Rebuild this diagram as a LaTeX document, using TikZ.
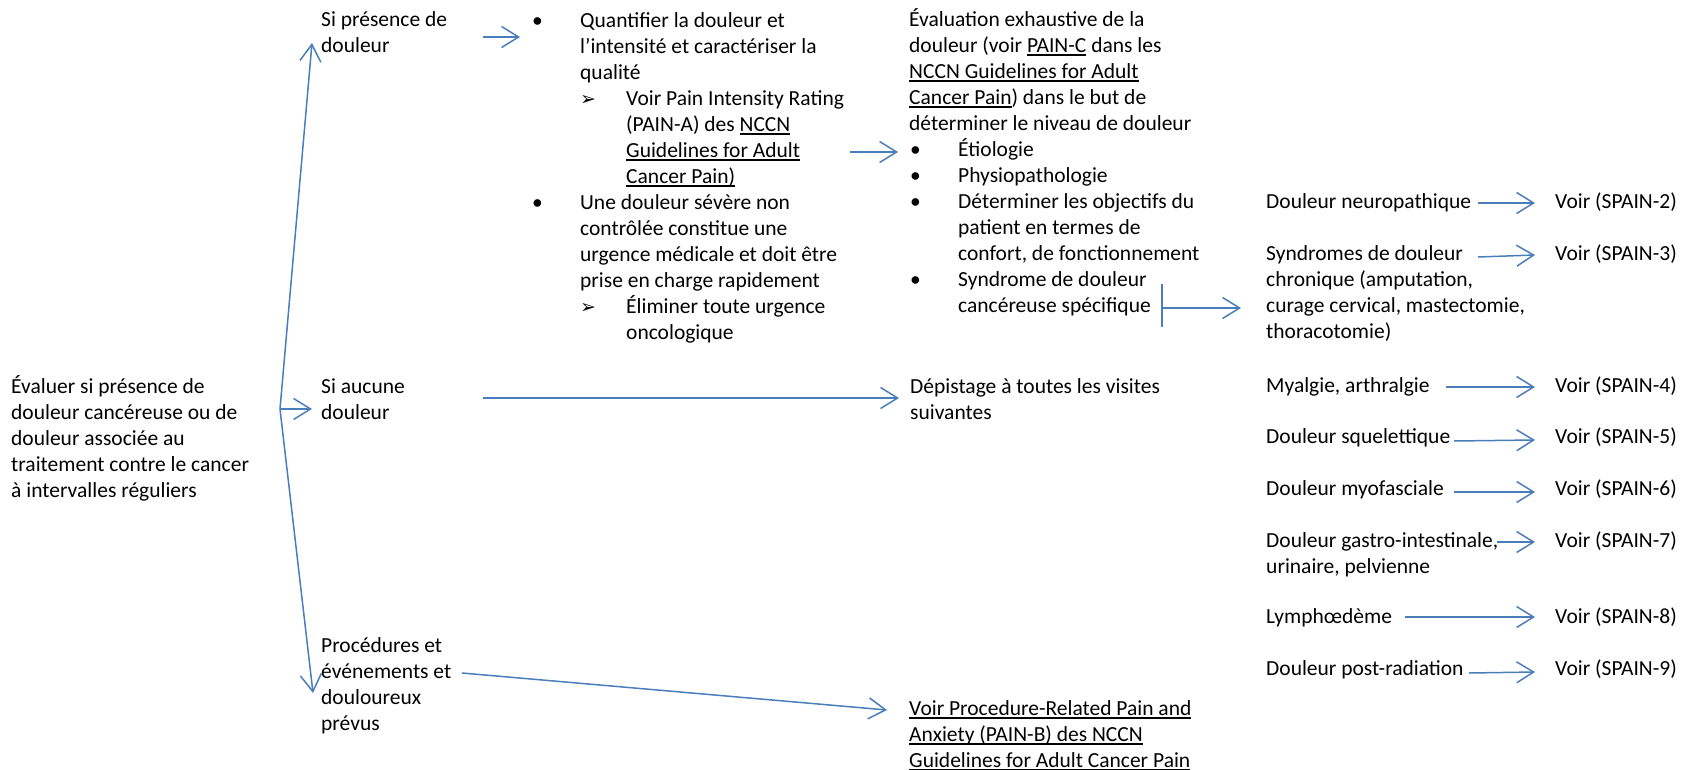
\documentclass[tikz,border=0pt]{standalone}
\usepackage{fontspec}
\setmainfont{Carlito}
\newfontfamily\dingfont{DejaVu Sans}
\usetikzlibrary{arrows.meta}
\definecolor{arrblue}{RGB}{74,126,187}
\newcommand\myul[1]{\leavevmode\setbox0=\hbox{#1}\rlap{\rule[-3.5bp]{\wd0}{1.3bp}}\box0\relax}
\newcommand\fl{\rule{0pt}{22bp}}
\newcommand\bl[1]{\makebox[#1][l]{•}}
\newcommand\arw{\makebox[46bp][l]{\dingfont\fontsize{19bp}{19bp}\selectfont ➢}}
\tikzset{
  txt/.style={anchor=north west, inner sep=0pt, align=left, font=\fontsize{21.5bp}{26bp}\selectfont},
  arr/.style={draw=arrblue, line width=1.5bp, -{Straight Barb[length=17bp,width=21bp]}},
  ln/.style={draw=arrblue, line width=1.5bp}
}
\begin{document}
\begin{tikzpicture}[x=1bp, y=-1bp]
\useasboundingbox (0,0) rectangle (1692,770);
% left text
\node[txt] (ev) at (11,371) {\fl Évaluer si présence de\\douleur cancéreuse ou de\\douleur associée au\\traitement contre le cancer\\à intervalles réguliers};
\node[txt] (pres) at (321,4) {\fl Si présence de\\douleur};
\node[txt] (auc) at (321,371) {\fl Si aucune\\douleur};
\node[txt] (proc) at (321,630) {\fl Procédures et\\événements et\\douloureux\\prévus};
% quantifier list
\node[txt] (quant) at (532,5) {\fl\bl{48bp}Quantifier la douleur et\\
\hspace*{48bp}l’intensité et caractériser la\\
\hspace*{48bp}qualité\\
\hspace*{48bp}\arw Voir Pain Intensity Rating\\
\hspace*{94bp}(PAIN-A) des \myul{NCCN}\\
\hspace*{94bp}\myul{Guidelines for Adult}\\
\hspace*{94bp}\myul{Cancer Pain)}\\
\bl{48bp}Une douleur sévère non\\
\hspace*{48bp}contrôlée constitue une\\
\hspace*{48bp}urgence médicale et doit être\\
\hspace*{48bp}prise en charge rapidement\\
\hspace*{48bp}\arw Éliminer toute urgence\\
\hspace*{94bp}oncologique};
% evaluation list
\node[txt] (evalx) at (909,4) {\fl Évaluation exhaustive de la\\
douleur (voir \myul{PAIN-C} dans les\\
\myul{NCCN Guidelines for Adult}\\
\myul{Cancer Pain}) dans le but de\\
déterminer le niveau de douleur\\
\hspace*{1bp}\bl{48bp}Étiologie\\
\hspace*{1bp}\bl{48bp}Physiopathologie\\
\hspace*{1bp}\bl{48bp}Déterminer les objectifs du\\
\hspace*{49bp}patient en termes de\\
\hspace*{49bp}confort, de fonctionnement\\
\hspace*{1bp}\bl{48bp}Syndrome de douleur\\
\hspace*{49bp}cancéreuse spécifique};
\node[txt] (dep) at (910,371) {\fl Dépistage à toutes les visites\\suivantes};
\node[txt] (procb) at (909,693) {\fl\myul{Voir Procedure-Related Pain and}\\\myul{Anxiety (PAIN-B) des NCCN}\\\myul{Guidelines for Adult Cancer Pain}};
% right column
\node[txt] (neuro) at (1266,186) {\fl Douleur neuropathique};
\node[txt] (synd) at (1266,238) {\fl Syndromes de douleur\\chronique (amputation,\\curage cervical, mastectomie,\\thoracotomie)};
\node[txt] (myal) at (1266,370) {\fl Myalgie, arthralgie};
\node[txt] (sque) at (1266,421) {\fl Douleur squelettique};
\node[txt] (myof) at (1266,473) {\fl Douleur myofasciale};
\node[txt] (gast) at (1266,525) {\fl Douleur gastro-intestinale,\\urinaire, pelvienne};
\node[txt] (lymph) at (1266,601) {\fl Lymphœdème};
\node[txt] (post) at (1266,653) {\fl Douleur post-radiation};
\node[txt] (v2) at (1555,186) {\fl Voir (SPAIN-2)};
\node[txt] (v3) at (1555,238) {\fl Voir (SPAIN-3)};
\node[txt] (v4) at (1555,370) {\fl Voir (SPAIN-4)};
\node[txt] (v5) at (1555,421) {\fl Voir (SPAIN-5)};
\node[txt] (v6) at (1555,473) {\fl Voir (SPAIN-6)};
\node[txt] (v7) at (1555,525) {\fl Voir (SPAIN-7)};
\node[txt] (v8) at (1555,601) {\fl Voir (SPAIN-8)};
\node[txt] (v9) at (1555,653) {\fl Voir (SPAIN-9)};
% connector coordinates
\coordinate (br) at (280,409);
\coordinate (presIn) at (312,43);
\coordinate (aucIn) at (312,409);
\coordinate (procIn) at (313,693);
\coordinate (presOut) at (483,37);
\coordinate (quantIn) at (520,37);
\coordinate (quantOut) at (850,152);
\coordinate (evalIn) at (898,152);
\coordinate (aucOut) at (483,398);
\coordinate (depIn) at (899,398);
\coordinate (procOut) at (462,673);
\coordinate (procbIn) at (887,710);
\coordinate (brTop) at (1162,284);
\coordinate (brBot) at (1162,327);
\coordinate (brMid) at (1162,308);
\coordinate (syndIn) at (1241,308);
\coordinate (neuroOut) at (1478,203);
\coordinate (v2In) at (1535,203);
\coordinate (syndOut) at (1478,257);
\coordinate (v3In) at (1535,255);
\coordinate (myalOut) at (1446,387);
\coordinate (v4In) at (1535,387);
\coordinate (squeOut) at (1454,441);
\coordinate (v5In) at (1535,440);
\coordinate (myofOut) at (1454,492);
\coordinate (v6In) at (1535,492);
\coordinate (gastOut) at (1497,542);
\coordinate (v7In) at (1535,542);
\coordinate (lymphOut) at (1405,617);
\coordinate (v8In) at (1535,617);
\coordinate (postOut) at (1469,673);
\coordinate (v9In) at (1535,672);
% connectors
\draw[arr] (br) -- (presIn);
\draw[arr] (br) -- (aucIn);
\draw[arr] (br) -- (procIn);
\draw[arr] (presOut) -- (quantIn);
\draw[arr] (quantOut) -- (evalIn);
\draw[arr] (aucOut) -- (depIn);
\draw[arr] (procOut) -- (procbIn);
\draw[ln] (brTop) -- (brBot);
\draw[arr] (brMid) -- (syndIn);
\draw[arr] (neuroOut) -- (v2In);
\draw[arr] (syndOut) -- (v3In);
\draw[arr] (myalOut) -- (v4In);
\draw[arr] (squeOut) -- (v5In);
\draw[arr] (myofOut) -- (v6In);
\draw[arr] (gastOut) -- (v7In);
\draw[arr] (lymphOut) -- (v8In);
\draw[arr] (postOut) -- (v9In);
\end{tikzpicture}
\end{document}
